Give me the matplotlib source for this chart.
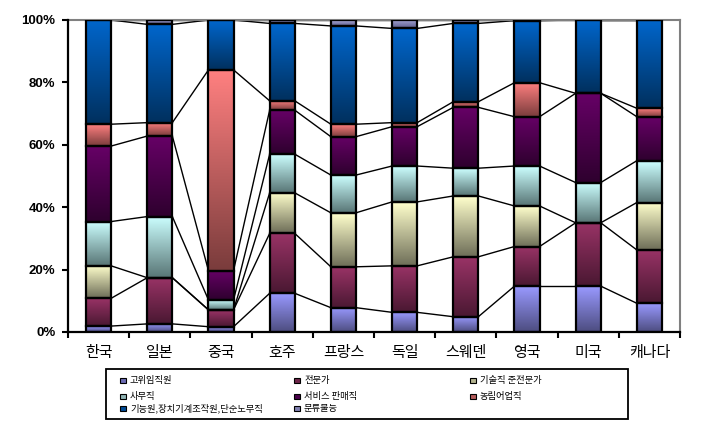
import numpy as np
import matplotlib
matplotlib.use("Agg")
import matplotlib.pyplot as plt
from matplotlib.patches import Rectangle
from matplotlib.colors import to_rgb

categories = ['한국', '일본', '중국', '호주', '프랑스', '독일', '스웨덴', '영국', '미국', '캐나다']
series_names = ['고위임직원', '전문가', '기술직 준전문가', '사무직', '서비스 판매직',
                '농림어업직', '기능원,장치기계조작원,단순노무직', '분류불능']

executives   = [1.9, 2.6, 1.7, 12.4, 7.8, 6.3, 4.9, 14.7, 14.7, 9.2]
professional = [8.9, 14.8, 5.4, 19.2, 13.1, 14.9, 19.2, 12.7, 20.3, 17.1]
technician   = [10.4, 0.0, 0.0, 13.0, 17.3, 20.5, 19.5, 13.0, 0.0, 15.2]
clerical     = [14.2, 19.6, 3.2, 12.4, 12.1, 11.5, 8.9, 12.8, 12.9, 13.4]
service      = [24.2, 25.8, 9.4, 14.1, 12.3, 12.6, 19.5, 15.8, 28.6, 14.1]
agriculture  = [7.0, 4.3, 64.3, 3.0, 4.0, 1.3, 1.8, 10.9, 0.0, 2.7]
crafts       = [33.4, 31.5, 16.0, 24.8, 31.5, 30.2, 25.1, 19.9, 23.5, 28.3]
unclassified = [0.0, 1.4, 0.0, 1.1, 1.9, 2.7, 1.1, 0.2, 0.0, 0.0]

y_ticks = [0, 20, 40, 60, 80, 100]

series = [executives, professional, technician, clerical, service, agriculture, crafts, unclassified]
top_colors = ['#9999FF', '#993366', '#FFFFCC', '#CCFFFF', '#660066', '#FF8080', '#0066CC', '#A8A8D8']
bot_colors = ['#4D4D80', '#4A1832', '#6E6E58', '#587575', '#2E002E', '#7A3C3C', '#00305E', '#606090']
legend_colors = ['#6B6BB3', '#6E2649', '#B3B38F', '#8FB3B3', '#4A004A', '#B35A5A', '#004A94', '#8080B0']

data = np.array(series, dtype=float)
data = data / data.sum(axis=0) * 100.0

fig = plt.figure(figsize=(7.02, 4.43), dpi=100)
ax = fig.add_axes([68/702, 1-332/443, 612/702, 312/443])

x = np.arange(len(categories))
w = 0.41
bottom = np.zeros(len(categories))
tops = []
for k in range(len(series)):
    vals = data[k]
    bars = ax.bar(x, vals, w, bottom=bottom, facecolor='none', edgecolor='black',
                  linewidth=1.6, zorder=3)
    c1 = np.array(to_rgb(top_colors[k]))
    c2 = np.array(to_rgb(bot_colors[k]))
    t = np.linspace(0, 1, 64)[:, None]
    grad = (c1 * (1 - t) + c2 * t)[:, None, :]
    for b in bars:
        h = b.get_height()
        if h <= 0:
            continue
        bx, by, bw = b.get_x(), b.get_y(), b.get_width()
        im = ax.imshow(grad, extent=[bx, bx + bw, by, by + h], aspect='auto',
                       origin='upper', interpolation='bilinear', zorder=2)
        im.set_clip_path(b)
    bottom = bottom + vals
    tops.append(bottom.copy())

# series lines
for cum in tops:
    for i in range(len(categories) - 1):
        ax.plot([x[i] + w/2, x[i+1] - w/2], [cum[i], cum[i+1]], color='black',
                linewidth=1.0, zorder=1.5, solid_capstyle='butt')

ax.set_xlim(-0.5, len(categories) - 0.5)
ax.set_ylim(0, 100)
ax.set_yticks(y_ticks)
ax.set_yticklabels([f'{v}%' for v in y_ticks], fontfamily='Liberation Sans',
                   fontweight='bold', fontsize=9.5)
ax.set_xticks(x)
ax.set_xticklabels(categories, fontfamily=['Noto Sans CJK KR', 'DejaVu Sans'], fontsize=10.8)
ax.set_xticks(np.arange(-0.5, len(categories)), minor=True)
ax.tick_params(axis='x', which='major', length=0, pad=10)
ax.tick_params(axis='x', which='minor', length=4, width=1.5, direction='out')
ax.tick_params(axis='y', length=4, width=1.5, direction='out', pad=5)

for s in ['left', 'bottom']:
    ax.spines[s].set_color('black')
    ax.spines[s].set_linewidth(1.6)
    ax.spines[s].set_zorder(4)
for s in ['top', 'right']:
    ax.spines[s].set_color('#808080')
    ax.spines[s].set_linewidth(1.5)

# legend box (manual layout)
W, H = 702, 443
fig.patches.append(Rectangle((106/W, 1-419/H), (628-106)/W, (419-369)/H,
                             transform=fig.transFigure, fill=False,
                             edgecolor='black', linewidth=1.3))
col_x = [123, 297, 473]
row_y = [380.5, 396.5, 408.5]
order = [(0, 0), (0, 1), (0, 2), (1, 0), (1, 1), (1, 2), (2, 0), (2, 1)]
ms = 5.5
for k, (r, c) in enumerate(order):
    cx, cy = col_x[c], row_y[r]
    fig.patches.append(Rectangle(((cx - ms/2)/W, 1-(cy + ms/2)/H), ms/W, ms/H,
                                 transform=fig.transFigure, facecolor=legend_colors[k],
                                 edgecolor='black', linewidth=0.8))
    fig.text((cx + 7)/W, 1 - cy/H, series_names[k], fontsize=6.7,
             fontfamily=['Noto Sans CJK KR', 'DejaVu Sans'], va='center', ha='left')

fig.savefig('out.png', dpi=100)
